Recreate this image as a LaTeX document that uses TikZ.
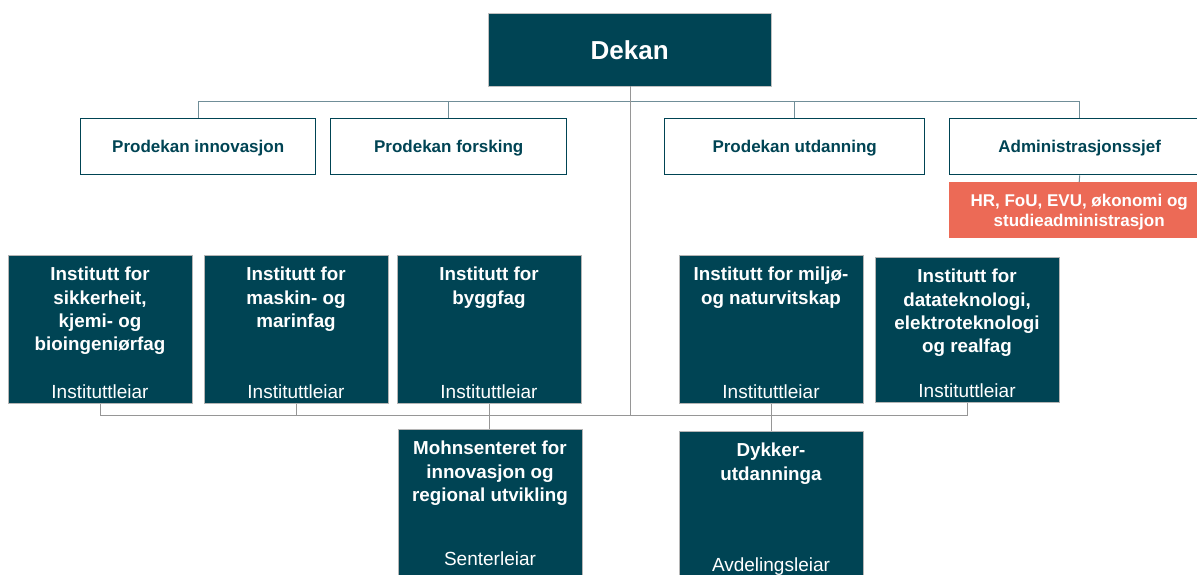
\documentclass[tikz,border=0pt]{standalone}
\usepackage{fontspec}
\setmainfont{Liberation Sans}
\usepackage{xcolor}
\usepackage{tikz}
\definecolor{hvlteal}{RGB}{0,68,84}
\definecolor{hvlred}{RGB}{236,106,86}
\definecolor{hvlline}{RGB}{112,142,152}
\definecolor{hvlgray}{RGB}{150,150,150}

\begin{document}
\begin{tikzpicture}[x=1pt,y=-1pt,
	topbox/.style={draw=hvlteal,line width=1.4pt,fill=white,text=hvlteal,anchor=north west,
		minimum height=56pt,inner sep=0pt,text depth=0pt,font=\fontsize{17}{20}\selectfont\bfseries},
	instbox/.style={draw=hvlgray!70,line width=0.8pt,fill=hvlteal,anchor=north,
		minimum width=184pt,minimum height=148pt,inner sep=0pt},
	title/.style={anchor=north,align=center,inner sep=0pt,text=white,
		font=\fontsize{18.8}{23.3}\selectfont\bfseries},
	lead/.style={anchor=south,inner sep=0pt,text=white,yshift=5pt,
		font=\fontsize{19}{22}\selectfont},
	tline/.style={draw=hvlline,line width=1pt},
	bline/.style={draw=hvlgray,line width=1pt}]
	\useasboundingbox (0,0) rectangle (1197,575);
	\clip (0,0) rectangle (1197,575);
	
	\node[fill=hvlteal,draw=hvlgray!60,anchor=north west,minimum width=283pt,minimum height=73pt,
		inner sep=0pt,text depth=0pt,text=white,font=\fontsize{26}{30}\selectfont\bfseries] (dekan) at (488,13) {Dekan};
	
	\node[topbox,minimum width=235pt] (innov) at (80,118) {Prodekan innovasjon};
	\node[topbox,minimum width=236pt] (fors) at (330,118) {Prodekan forsking};
	\node[topbox,minimum width=260pt] (utd) at (664,118) {Prodekan utdanning};
	\node[topbox,minimum width=260pt] (admin) at (949,118) {Administrasjonssjef};
	\node[fill=hvlred,anchor=north west,minimum width=260pt,minimum height=56pt,inner sep=0pt,
		text depth=0pt,align=center,text=white,font=\fontsize{17}{19.5}\selectfont\bfseries] (hr) at (949,182)
		{HR, FoU, EVU, økonomi og\\studieadministrasjon};
	
	\node[instbox] (sik) at (100,255) {};
	\node[instbox] (mask) at (296,255) {};
	\node[instbox] (bygg) at (489,255) {};
	\node[instbox] (milj) at (771,255) {};
	\node[instbox,minimum height=145pt] (data) at (967,257) {};
	\node[instbox] (mohn) at (490,429) {};
	\node[instbox] (dyk) at (771,431) {};
	
	\node[title] (sikT) at ([yshift=-12pt]sik.north) {Institutt for\\sikkerheit,\\kjemi- og\\bioingeniørfag};
	\node[title] (maskT) at ([yshift=-12pt]mask.north) {Institutt for\\maskin- og\\marinfag};
	\node[title] (byggT) at ([yshift=-12pt]bygg.north) {Institutt for\\byggfag};
	\node[title] (miljT) at ([yshift=-12pt]milj.north) {Institutt for miljø-\\og naturvitskap};
	\node[title] (dataT) at ([yshift=-12pt]data.north) {Institutt for\\datateknologi,\\elektroteknologi\\og realfag};
	\node[title] (mohnT) at ([yshift=-12pt]mohn.north) {Mohnsenteret for\\innovasjon og\\regional utvikling};
	\node[title] (dykT) at ([yshift=-12pt]dyk.north) {Dykker-\\utdanninga};
	
	\foreach \n in {sik,mask,bygg,milj,data}{
		\node[lead] (\n L) at (\n.south) {Instituttleiar};
	}
	\node[lead,yshift=7pt] (mohnL) at (mohn.south) {Senterleiar};
	\node[lead,yshift=-1pt] (dykL) at (dyk.south) {Avdelingsleiar};
	
	% leiargruppe
	\coordinate (dekbus) at (630,102);
	\draw[tline] (innov.north) -- (innov.north |- dekbus) -| (admin.north);
	\draw[tline] (fors.north) -- (fors.north |- dekbus);
	\draw[tline] (utd.north) -- (utd.north |- dekbus);
	\draw[tline] (admin.south) -- (hr.north);
	
	% institutta
	\coordinate (instbus) at (630,415);
	\draw[bline] (dekan.south -| dekbus) -- (instbus);
	\draw[bline] (sik.south) -- (sik.south |- instbus) -| (data.south);
	\draw[bline] (mask.south) -- (mask.south |- instbus);
	\draw[bline] (bygg.south) -- (bygg.south |- mohn.north);
	\draw[bline] (milj.south) -- (dyk.north);
	
\end{tikzpicture}
\end{document}
